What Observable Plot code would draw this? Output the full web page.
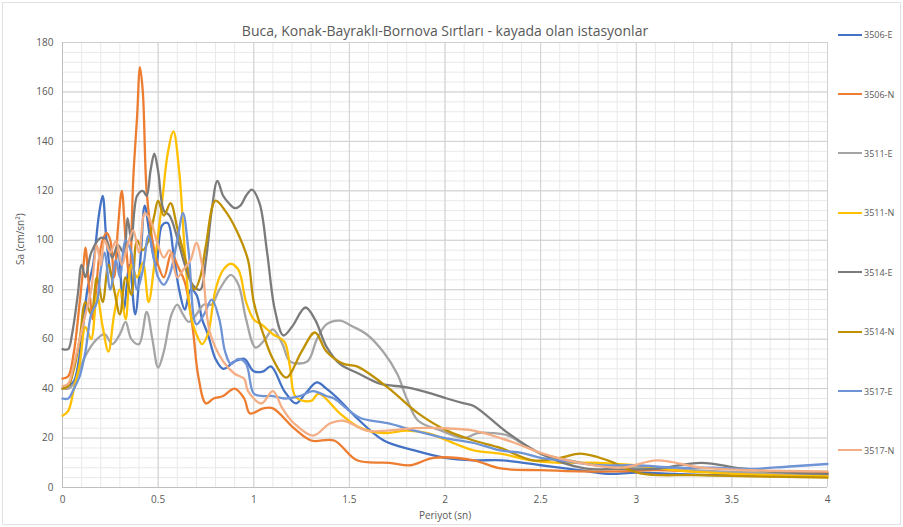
<!DOCTYPE html>
<html>
<head>
<meta charset="utf-8">
<script src="https://cdn.jsdelivr.net/npm/d3@7"></script>
<script src="https://cdn.jsdelivr.net/npm/@observablehq/plot@0.6"></script>
<style>
  body { margin: 0; background: #fff; }
  #wrap { position: relative; width: 903px; height: 527px; font-family: "Open Sans", sans-serif; }
  #frame { position: absolute; left: 2px; top: 2px; width: 897px; height: 521px; border: 1px solid #e2e2e2; pointer-events: none; }
  #legend { position: absolute; left: 838px; top: 5px; }
  .item { height: 59.4px; display: flex; align-items: center; font-size: 9px; color: #595959; }
  .sw { width: 24px; height: 0; border-top: 2px solid; margin-right: 2px; }
</style>
</head>
<body>
<div id="wrap"><div id="chart"></div><div id="legend"></div><div id="frame"></div></div>
<script>
const titleText = "Buca, Konak-Bayraklı-Bornova Sırtları - kayada olan istasyonlar";
const xLabel = "Periyot (sn)";
const yLabel = "Sa (cm/sn²)";
const xTicks = [0, 0.5, 1, 1.5, 2, 2.5, 3, 3.5, 4];
const yTicks = [0, 20, 40, 60, 80, 100, 120, 140, 160, 180];
const seriesNames = ["3506-E", "3506-N", "3511-E", "3511-N", "3514-E", "3514-N", "3517-E", "3517-N"];
const seriesColors = ["#4472C4", "#ED7D31", "#A5A5A5", "#FFC000", "#7B7B7B", "#BF9000", "#6F94D6", "#F4AE85"];

// [period (s), Sa]
const s3506E = [[0,40],[0.03,41],[0.06,43],[0.1,60],[0.13,80],[0.16,90],[0.19,110],[0.21,118],[0.23,100],[0.26,85],[0.29,95],[0.32,72],[0.35,90],[0.38,70],[0.41,95],[0.43,114],[0.46,100],[0.49,90],[0.52,106],[0.55,107],[0.58,95],[0.61,80],[0.64,72],[0.67,80],[0.7,78],[0.73,68],[0.76,62],[0.8,52],[0.84,48],[0.9,51],[0.95,52],[1.0,47],[1.05,47],[1.09,49],[1.16,39],[1.22,34],[1.27,38],[1.33,42.5],[1.38,40],[1.44,36],[1.54,28],[1.68,19],[1.84,15],[2.0,12],[2.15,11],[2.3,11],[2.5,9],[2.7,7],[2.85,5.5],[3.0,6],[3.2,5.5],[3.4,5],[3.6,5],[3.8,5],[4.0,5.5]];
const s3506N = [[0,44],[0.03,45],[0.06,55],[0.09,75],[0.11,90],[0.12,97],[0.14,80],[0.16,68],[0.19,92],[0.21,100],[0.23,103],[0.25,100],[0.27,85],[0.29,105],[0.31,120],[0.33,100],[0.35,85],[0.37,125],[0.39,150],[0.405,170],[0.42,160],[0.44,120],[0.47,100],[0.5,90],[0.53,85],[0.57,95],[0.6,90],[0.64,83],[0.68,65],[0.71,45],[0.75,34],[0.79,36],[0.84,37],[0.9,40],[0.95,36],[0.98,30],[1.05,32],[1.1,32],[1.21,24],[1.3,19],[1.42,19],[1.54,11],[1.71,10],[1.82,9],[1.94,12],[2.15,11],[2.29,7.7],[2.5,7],[2.7,6.5],[2.9,6.5],[3.1,7],[3.3,6.5],[3.5,6],[3.7,6],[4.0,6]];
const s3511E = [[0,40],[0.03,40],[0.06,42],[0.1,50],[0.14,56],[0.18,60],[0.22,62],[0.26,58],[0.3,62],[0.33,67],[0.36,60],[0.4,58],[0.44,71],[0.47,60],[0.5,48.5],[0.53,55],[0.57,70],[0.6,74],[0.63,70],[0.66,67],[0.7,70],[0.74,74],[0.78,74],[0.82,80],[0.88,86],[0.92,82],[0.96,68],[1.01,56.6],[1.06,60],[1.1,64],[1.15,58],[1.19,51],[1.28,51],[1.33,60],[1.38,66],[1.45,67.5],[1.52,65],[1.59,62],[1.68,54.6],[1.75,46],[1.8,36],[1.86,27],[1.98,23],[2.1,20],[2.17,22],[2.25,22],[2.33,21],[2.42,17],[2.5,13.7],[2.65,11],[2.8,9],[3.0,8],[3.3,7],[3.6,6],[4.0,5]];
const s3511N = [[0,29],[0.03,31],[0.06,40],[0.09,50],[0.12,65],[0.15,60],[0.18,78],[0.21,65],[0.24,55],[0.27,70],[0.3,80],[0.33,68],[0.36,90],[0.39,85],[0.42,91],[0.45,75],[0.48,90],[0.52,115],[0.55,135],[0.58,144],[0.61,128],[0.64,95],[0.67,70],[0.7,62],[0.73,58],[0.76,62],[0.8,80],[0.84,88],[0.88,90.5],[0.92,88],[0.96,75],[1.0,68],[1.04,66],[1.1,62],[1.16,59],[1.19,48.5],[1.22,36.5],[1.3,35],[1.34,38],[1.45,30],[1.56,24],[1.68,22],[1.8,23],[1.91,22],[2.05,17.8],[2.15,15],[2.29,13.7],[2.45,11],[2.6,10],[2.8,10],[3.0,9],[3.2,7],[3.5,5.5],[3.8,4.8],[4.0,4.5]];
const s3514E = [[0,56],[0.03,56],[0.05,62],[0.08,78],[0.1,90],[0.12,85],[0.15,95],[0.2,101],[0.23,100],[0.26,93],[0.29,98],[0.32,95],[0.34,109],[0.36,100],[0.39,118],[0.42,120],[0.44,118],[0.46,128],[0.48,135],[0.5,128],[0.53,112],[0.56,110],[0.6,101],[0.64,90],[0.68,82],[0.72,80],[0.75,92],[0.78,112],[0.81,124],[0.84,118],[0.87,115],[0.9,113],[0.93,114],[0.96,118],[0.99,120.5],[1.03,115],[1.07,95],[1.11,72],[1.155,61.5],[1.2,65],[1.27,72.8],[1.32,68],[1.38,57],[1.45,50],[1.55,46],[1.66,42],[1.8,40.5],[1.93,38],[2.01,36],[2.1,34],[2.15,33],[2.33,22],[2.5,13.7],[2.73,7.7],[2.9,7.5],[3.1,7.5],[3.34,10],[3.55,7.7],[3.8,6],[4.0,5.5]];
const s3514N = [[0,40],[0.03,41],[0.06,48],[0.09,60],[0.12,75],[0.15,70],[0.18,85],[0.21,75],[0.24,90],[0.27,80],[0.3,70],[0.33,85],[0.36,78],[0.39,100],[0.42,96],[0.45,100],[0.48,110],[0.5,116],[0.53,110],[0.565,115],[0.6,105],[0.65,90],[0.69,80],[0.72,85],[0.75,98],[0.8,116],[0.85,112],[0.91,104],[0.97,92],[1.0,75],[1.05,62],[1.1,52],[1.17,44.5],[1.25,55],[1.32,62.7],[1.38,55],[1.47,50],[1.54,49],[1.7,40.5],[1.86,30],[2.01,23],[2.15,19],[2.29,16],[2.46,11],[2.6,12],[2.71,13.7],[2.85,11],[3.02,5.7],[3.3,5],[3.6,4.5],[4.0,4]];
const s3517E = [[0,36],[0.03,36],[0.06,40],[0.09,45],[0.12,55],[0.15,70],[0.18,75],[0.2,88],[0.22,95],[0.25,80],[0.28,92],[0.3,85],[0.33,100],[0.36,95],[0.39,80],[0.42,88],[0.45,102],[0.48,92],[0.5,85],[0.53,82],[0.56,86],[0.6,100],[0.63,111],[0.66,95],[0.7,66],[0.74,70],[0.78,76],[0.82,68],[0.85,55],[0.88,50],[0.92,52],[0.96,50],[1.0,38],[1.05,37],[1.1,37],[1.16,36],[1.24,37],[1.31,39],[1.38,37],[1.42,36],[1.5,31],[1.56,28],[1.7,26],[1.84,23],[2.0,20],[2.15,18],[2.29,15],[2.4,14],[2.5,12],[2.6,11],[2.8,9],[3.0,9],[3.2,8],[3.4,8],[3.6,7.5],[3.8,8.5],[4.0,9.5]];
const s3517N = [[0,41],[0.03,42],[0.06,50],[0.09,60],[0.12,70],[0.15,80],[0.18,98],[0.2,90],[0.22,100],[0.25,95],[0.28,100],[0.31,90],[0.34,98],[0.37,104],[0.4,95],[0.43,111],[0.46,108],[0.5,98],[0.53,93],[0.56,96],[0.6,85],[0.63,88],[0.67,92],[0.7,99],[0.73,90],[0.77,63],[0.84,51],[0.9,46],[0.95,44],[0.97,39],[1.04,34],[1.1,39],[1.15,32],[1.21,26],[1.31,21],[1.4,26],[1.47,27],[1.59,23],[1.7,23],[1.84,24],[1.98,24],[2.15,23],[2.29,20],[2.4,17],[2.5,14],[2.7,10],[2.92,8],[3.11,11],[3.34,8],[3.6,7],[4.0,6.5]];

const seriesValues = [s3506E, s3506N, s3511E, s3511N, s3514E, s3514N, s3517E, s3517N];
const rows = seriesValues.flatMap((arr, i) => arr.map(([t, v]) => ({ series: seriesNames[i], t, v })));

const chart = Plot.plot({
  width: 903, height: 527,
  marginLeft: 62, marginRight: 76, marginTop: 42, marginBottom: 40,
  style: { fontFamily: "Open Sans, sans-serif", fontSize: "10px", color: "#595959", background: "transparent" },
  x: { domain: [0, 4], ticks: xTicks, tickFormat: d => String(d) },
  y: { domain: [0, 180], ticks: yTicks },
  color: { domain: seriesNames, range: seriesColors },
  marks: [
    Plot.gridX(d3.range(0, 4.0001, 0.1).map(d => +d.toFixed(1)), { stroke: "#e9e9e9", strokeOpacity: 1 }),
    Plot.gridY(d3.range(0, 181, 4), { stroke: "#e9e9e9", strokeOpacity: 1 }),
    Plot.gridX(xTicks, { stroke: "#d0d0d0", strokeOpacity: 1 }),
    Plot.gridY(yTicks, { stroke: "#d0d0d0", strokeOpacity: 1 }),
    Plot.ruleX([0], { stroke: "#bfbfbf" }),
    Plot.ruleY([0], { stroke: "#bfbfbf" }),
    Plot.line(rows, { x: "t", y: "v", z: "series", stroke: "series", strokeWidth: 2.3, curve: "catmull-rom" }),
    Plot.axisX(xTicks, { tickSize: 0, tickPadding: 8, label: null, tickFormat: d => String(d), fill: "#595959" }),
    Plot.axisY(yTicks, { tickSize: 0, tickPadding: 9, label: null, fill: "#595959" }),
    Plot.text([titleText], { frameAnchor: "top", dy: -16, fontSize: 14, fill: "#595959" }),
    Plot.text([xLabel], { frameAnchor: "bottom", dy: 31, fontSize: 10, fill: "#595959" }),
    Plot.text([yLabel], { frameAnchor: "left", dx: -42, rotate: -90, fontSize: 10, fill: "#595959" })
  ]
});
document.getElementById("chart").appendChild(chart);

const legend = document.getElementById("legend");
seriesNames.forEach((name, i) => {
  const item = document.createElement("div");
  item.className = "item";
  const sw = document.createElement("span");
  sw.className = "sw";
  sw.style.borderTopColor = seriesColors[i];
  const label = document.createElement("span");
  label.textContent = name;
  item.appendChild(sw);
  item.appendChild(label);
  legend.appendChild(item);
});
</script>
</body>
</html>
